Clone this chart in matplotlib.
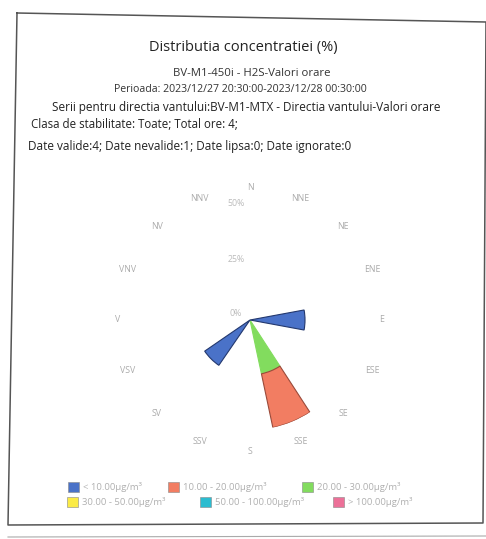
import numpy as np
import matplotlib.pyplot as plt
from matplotlib.lines import Line2D
from matplotlib.patches import Rectangle

plt.rcParams['font.family'] = ['Open Sans', 'DejaVu Sans']

# wind directions (Romanian labels), clockwise from North
directions = ['N', 'NNE', 'NE', 'ENE', 'E', 'ESE', 'SE', 'SSE',
              'S', 'SSV', 'SV', 'VSV', 'V', 'VNV', 'NV', 'NNV']

# frequency (%) per concentration class and direction
freq_lt10 = [0, 0, 0, 0, 25, 0, 0, 0, 0, 0, 25, 0, 0, 0, 0, 0]
freq_10_20 = [0, 0, 0, 0, 0, 0, 0, 25, 0, 0, 0, 0, 0, 0, 0, 0]
freq_20_30 = [0, 0, 0, 0, 0, 0, 0, 25, 0, 0, 0, 0, 0, 0, 0, 0]
freq_30_50 = [0] * 16
freq_50_100 = [0] * 16
freq_gt100 = [0] * 16

class_labels = ['< 10.00µg/m³', '10.00 - 20.00µg/m³', '20.00 - 30.00µg/m³',
                '30.00 - 50.00µg/m³', '50.00 - 100.00µg/m³', '> 100.00µg/m³']
class_colors = ['#4a72c8', '#f27d62', '#82dc5e', '#fbeb45', '#2bbcd0', '#ec7098']
class_edges = ['#23386e', '#9a4a3a', '#82dc5e', '#fbeb45', '#2bbcd0', '#ec7098']
class_freqs = [freq_lt10, freq_10_20, freq_20_30, freq_30_50, freq_50_100, freq_gt100]

r_ticks = [0, 25, 50]
r_tick_labels = ['0%', '25%', '50%']

W, H = 486, 539
fig = plt.figure(figsize=(W / 100, H / 100), dpi=100)


def px(x, y):
    return x / W, 1 - y / H


# scanned frame
frame = [(17, 13), (486, 22), (483, 523), (8, 525), (17, 13)]
fig.add_artist(Line2D([px(*p)[0] for p in frame], [px(*p)[1] for p in frame],
                      transform=fig.transFigure, color='#555555', lw=1.1))
fig.add_artist(Line2D([px(8, 537)[0], px(486, 536)[0]], [px(8, 537)[1], px(486, 536)[1]],
                      transform=fig.transFigure, color='#aaaaaa', lw=0.8))

# header texts
fig.text(*px(243, 48), 'Distributia concentratiei (%)', ha='center', va='center',
         fontsize=10.5, color='#222222')
fig.text(*px(252, 73), 'BV-M1-450i - H2S-Valori orare', ha='center', va='center',
         fontsize=8.2, color='#333333')
fig.text(*px(240, 89), 'Perioada: 2023/12/27 20:30:00-2023/12/28 00:30:00', ha='center',
         va='center', fontsize=7.6, color='#333333')
fig.text(*px(246, 107), 'Serii pentru directia vantului:BV-M1-MTX - Directia vantului-Valori orare',
         ha='center', va='center', fontsize=8.5, color='#222222')
fig.text(*px(31, 124), 'Clasa de stabilitate: Toate; Total ore: 4;', ha='left', va='center',
         fontsize=8.3, color='#222222')
fig.text(*px(28, 146), 'Date valide:4; Date nevalide:1; Date lipsa:0; Date ignorate:0',
         ha='left', va='center', fontsize=8.5, color='#222222')

# polar wind rose
cx, cy, R = 250, 320, 110
ax = fig.add_axes([(cx - R) / W, (H - cy - R) / H, 2 * R / W, 2 * R / H], projection='polar')
ax.set_theta_zero_location('N')
ax.set_theta_direction(-1)
ax.set_ylim(0, 50)
ax.grid(False)
ax.spines['polar'].set_visible(False)
ax.set_xticks([])
ax.set_yticks([])
ax.patch.set_alpha(0)

theta = np.deg2rad(np.arange(16) * 22.5)
width = np.deg2rad(21)
bottom = np.zeros(16)
draw_order = [2, 1, 0, 3, 4, 5]
for k in draw_order:
    vals = np.array(class_freqs[k], dtype=float)
    keep = vals > 0
    if keep.any():
        ax.bar(theta[keep], vals[keep], width=width, bottom=bottom[keep],
               color=class_colors[k], edgecolor=class_edges[k], linewidth=0.8)
    bottom = bottom + vals

for ang, lab in zip(theta, directions):
    ax.text(ang, 60, lab, ha='center', va='center', fontsize=6.3, color='#aaaaaa',
            clip_on=False)
for r, lab in zip(r_ticks, r_tick_labels):
    ax.annotate(lab, xy=(0, r), xytext=(-14, 6), textcoords='offset pixels',
                ha='center', va='center', fontsize=6.3, color='#bbbbbb',
                annotation_clip=False)

# legend (wrapped, as in the original)
legend_pos = [(68, 487), (168, 487), (302, 487), (67, 502), (200, 502), (333, 502)]
for (lx, ly), lab, col in zip(legend_pos, class_labels, class_colors):
    x0, y0 = px(lx, ly + 5)
    fig.add_artist(Rectangle((x0, y0), 11 / W, 10 / H, transform=fig.transFigure,
                             facecolor=col, edgecolor='#888888', lw=0.4))
    fig.text(*px(lx + 15, ly), lab, ha='left', va='center', fontsize=6.8, color='#b0b0b0')

fig.savefig('out.png', dpi=100, facecolor='white')
